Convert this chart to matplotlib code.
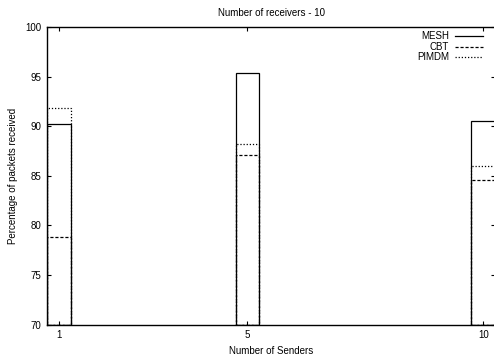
import matplotlib
matplotlib.use("Agg")
import matplotlib.pyplot as plt
import numpy as np

SENDERS = [1, 5, 10]
SERIES = ["MESH", "CBT", "PIMDM"]
MESH = [90.2, 95.4, 90.5]
CBT = [78.8, 87.1, 84.6]
PIMDM = [91.8, 88.2, 86.0]
YTICKS = [70, 75, 80, 85, 90, 95, 100]

STYLES = {"MESH": "-", "CBT": (0, (2.5, 1.5)), "PIMDM": (0, (1, 1.5))}

plt.rcParams["font.family"] = ["Liberation Sans", "DejaVu Sans"]
plt.rcParams["font.size"] = 7

fig = plt.figure(figsize=(4.94, 3.58), dpi=100)
ax = fig.add_axes([47 / 494, 33.3 / 358, 448 / 494, 297.7 / 358])

values = {"MESH": MESH, "CBT": CBT, "PIMDM": PIMDM}
for name in SERIES:
    ax.bar(SENDERS, np.array(values[name]) - 70, bottom=70, width=0.5,
           fill=False, edgecolor="black", linewidth=0.9,
           linestyle=STYLES[name], clip_on=True)

ax.set_xlim(0.75, 10.25)
ax.set_ylim(70, 100)
ax.set_xticks(SENDERS)
ax.set_yticks(YTICKS)
ax.tick_params(direction="in", top=True, right=True, length=3, width=0.8,
               labelsize=7, pad=4)
for s in ax.spines.values():
    s.set_linewidth(1.0)

ax.set_title("Number of receivers - 10", fontsize=7, pad=8)
ax.set_xlabel("Number of Senders", fontsize=7, labelpad=4)
ax.set_ylabel("Percentage of packets received", fontsize=7, labelpad=5.5)

# gnuplot-style key: right-aligned text followed by line sample
rows = [0.971, 0.933, 0.898]
for name, yy in zip(SERIES, rows):
    ax.text(0.897, yy, name, transform=ax.transAxes, ha="right", va="center",
            fontsize=7)
    ax.plot([0.911, 0.973], [yy, yy], transform=ax.transAxes, color="black",
            linewidth=0.9, linestyle=STYLES[name])

fig.savefig("out.png", dpi=100)
